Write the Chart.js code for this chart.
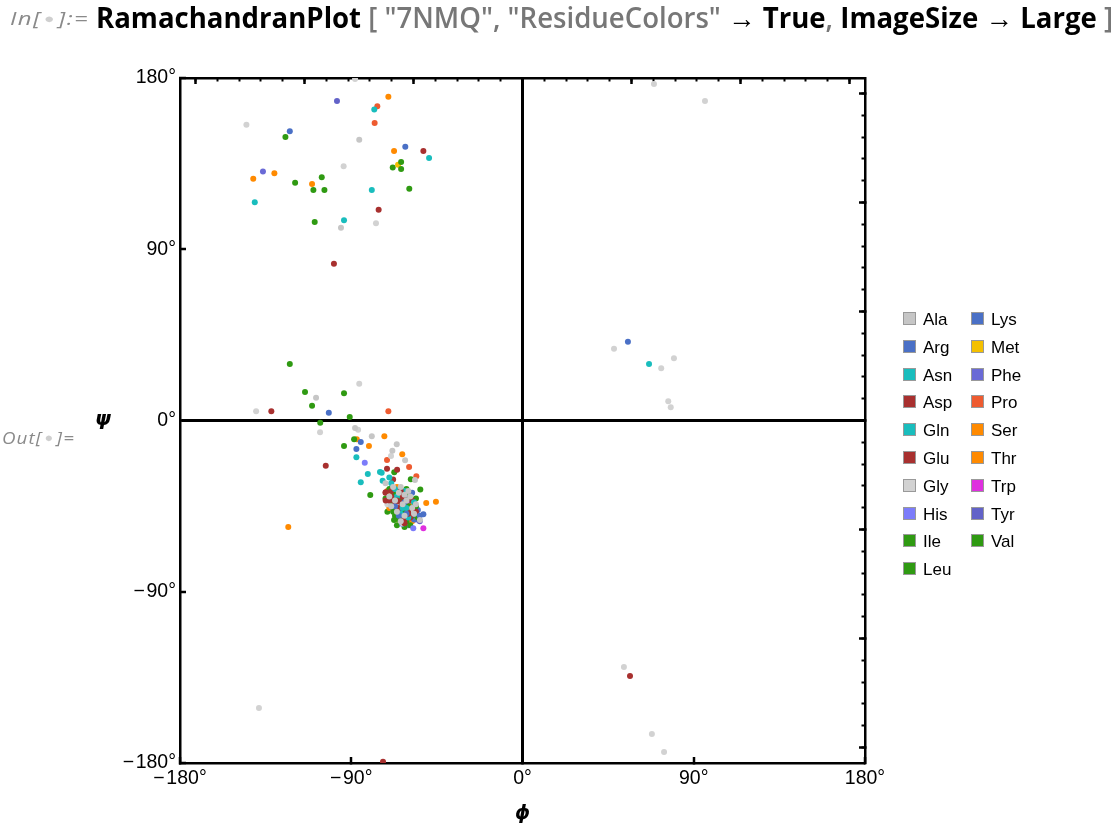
<!DOCTYPE html>
<html>
<head>
<meta charset="utf-8">
<script src="https://cdn.jsdelivr.net/npm/chart.js@4.4.1/dist/chart.umd.min.js"></script>
<style>
html,body{margin:0;padding:0;background:#fff;width:1120px;height:826px;overflow:hidden;font-family:"Liberation Sans",Arial,sans-serif;}
#wrap{position:relative;width:1120px;height:826px;}
#c{position:absolute;left:0;top:0;}
#inlab{position:absolute;left:10px;top:6px;font-size:18px;font-style:italic;color:#8a8a8a;white-space:nowrap;font-family:"Open Sans",sans-serif;transform-origin:0 0;letter-spacing:1px;}
#inlab .dot,#outlab .dot{color:#cfcfcf;font-style:normal;font-size:13px;margin:0 2px;position:relative;top:-2px;}
#cmd{position:absolute;left:96px;top:-2px;font-size:28px;font-weight:bold;white-space:nowrap;transform-origin:0 0;font-family:"Open Sans",sans-serif;color:#000;}
#cmd .g{color:#777;font-weight:600;}
#outlab{position:absolute;left:2px;top:426px;font-size:17px;font-style:italic;color:#8a8a8a;white-space:nowrap;font-family:"Open Sans",sans-serif;transform-origin:0 0;letter-spacing:1px;}
#psi{position:absolute;left:95px;top:406px;font-size:20px;font-weight:bold;font-style:italic;font-family:"DejaVu Sans",sans-serif;}
#legend{position:absolute;left:903px;top:307px;}
.li{position:absolute;height:26px;line-height:26px;font-size:17px;color:#000;white-space:nowrap;}
.sw{display:inline-block;width:11px;height:11px;border:1px solid #999;vertical-align:middle;margin-right:7px;position:relative;top:-2px;}
</style>
</head>
<body>
<div id="wrap">
  <canvas id="c" width="1120" height="826"></canvas>
  <div id="inlab">In[<span class="dot">●</span>]:=</div>
  <div id="cmd">RamachandranPlot <span class="g">[ "7NMQ", "ResidueColors"</span> → True<span class="g">,</span> ImageSize → Large <span class="g">]</span></div>
  <div id="outlab">Out[<span class="dot">●</span>]=</div>
  <div id="psi">ψ</div>
  <div id="legend"></div>
</div>
<script>
// ---- data: [phi, psi] pairs in degrees, per residue ----
const residues = ['Ala','Arg','Asn','Asp','Gln','Glu','Gly','His','Ile','Leu','Lys','Met','Phe','Pro','Ser','Thr','Trp','Tyr','Val'];

const ala = [[-85.8,147.6],[-95.4,101.3],[-108.5,12.0],[-88.0,-3.9],[-79.2,-8.3],[-66.1,-12.5],[-68.4,-15.9],[-61.7,-20.9],[-56.5,-31.3],[-53.9,-52.3],
  [-65,-38],[-61,-42],[-68,-35],[-58,-46],[-63,-44],[-70,-40],[-66,-48],[-60,-37],[-56,-44],[-72,-33],[-62,-50],[-67,-42],[-59,-40],[-64,-35],
  [-62,-39],[-57,-49],[-69,-45],[-64,-53]];
const arg = [[-61.6,143.9],[-101.8,4.1],[-87.3,-15.0],[-62,-43],[-58,-38],[-65,-50],[-54,-50],[-67,-45],[-61,-49]];
const asn = [[-77.9,163.5],[-79.2,121.1],[-93.8,105.2],[66.5,29.7],[-87.3,-19.3],[-85.0,-32.5],[-63,-46],[-70,-30]];
const asp = [[-52.1,141.6],[-99.1,82.4],[56.5,-134.3],[-132.0,4.8],[-71.2,-25.3],[-66,-42],[-60,-49],[-69,-40],[-64,-37],[-62,-54]];
const gln = [[-49.1,137.9],[-140.7,114.7],[-81.3,-28.1],[-74.9,-27.1],[-73.5,-31.6],[-74.0,-27.4],
  [-66,-40],[-62,-37],[-60,-51],[-69,-33],[-64,-49],[-57,-43],[-67,-36],[-61,-46]];
const glu = [[-75.6,110.8],[-73.3,-179.4],[-103.4,-23.8],[-65.9,-25.9],[-71.9,-42.1],[-71.9,-37.7],
  [-63,-40],[-67,-43],[-70,-42],[-60,-47],[-65,-46],[-72,-38],[-58,-42],[-68,-31],[-62,-52],[-56,-48],[-64,-43],[-59,-51],[-69,-37]];
const gly = [[-88.0,179.5],[-145.1,155.4],[-94.0,133.6],[-77.0,103.6],[69.1,176.8],[95.9,167.9],[48.1,37.7],[72.9,27.4],[79.6,32.7],[76.6,10.1],[77.9,6.9],
  [53.3,-129.6],[68.0,-164.7],[74.4,-174.2],[-138.5,-151.1],[-85.8,19.3],[-140.0,4.8],[-106.4,-6.2],[-86.4,-4.8],[-69.1,-18.7],
  [-65,-45],[-71,-44],[-63,-54],[-59,-47]];
const his = [[-82.9,-22.2],[-63.3,-54.3],[-57.4,-56.6],[-57,-49]];
const ile = [[-63.8,135.8],[-105.5,127.8],[-104.1,121.1],[-114.3,15.0],[-90.8,1.8],[-93.8,-13.4],
  [-63,-43],[-58,-48],[-66,-50],[-61,-38],[-67,-50],[-56,-41]];
const leu = [[-63.8,132.2],[-122.3,29.7],[-93.8,14.3],[-88.5,-9.9],[-67.4,-27.2],[-58.7,-30.9],[-53.7,-36.2],[-67.5,-52.3],
  [-64,-41],[-60,-45],[-67,-39],[-62,-48],[-58,-50],[-69,-44],[-65,-52],[-61,-53],[-57,-47],[-70,-36],[-63,-38],[-66,-45],[-59,-55],[-62,-56],[-55,-51],
  [-68,-48],[-61,-36],[-56,-45],[-66,-55],[-72,-41]];
const lys = [[-122.3,152.0],[55.4,41.4],[-85.0,-11.3],[-61,-39],[-64,-47],[-57,-52],[-66,-37],[-59,-49],[-68,-46],[-52.1,-49.3],[-63,-45],[-70,-44],[-55,-47]];
const met = [[-65.4,134.4],[-64,-44],[-60,-40],[-66,-52]];
const phe = [[-136.4,130.8],[-62,-41],[-58,-46],[-64,-52],[-60,-55]];
const pro = [[-76.3,165.1],[-77.7,156.3],[-70.5,4.8],[-71.2,-20.8],[-59.6,-24.4],[-55.8,-29.3]];
const ser = [[-70.5,170.2],[-130.4,129.9],[-110.6,124.3],[-80.7,-13.4],[-123.1,-56.0],[-72.6,-8.3],[-63.2,-17.8],[-45.5,-42.7],
  [-65,-43],[-61,-41],[-68,-38],[-59,-45],[-66,-35],[-58,-53]];
const thr = [[-67.5,141.6],[-141.5,127.1],[-87.1,-9.9],[-50.6,-43.4],[-64,-39],[-67,-47],[-62,-45],[-71,-37],[-70,-46],[-60,-38]];
const trp = [[-52.1,-56.6],[-61,-44]];
const tyr = [[-97.5,167.9],[-61,-47],[-56,-52],[-59,-42],[-54,-53]];
const val = [[-124.6,149.0],[-68.2,132.9],[-119.5,125.0],[-109.9,121.1],[-59.5,121.8],[-109.2,104.3],[-110.6,7.8],[-106.3,-1.2],[-80.0,-39.1],
  [-65,-47],[-60,-43],[-68,-41],[-63,-51],[-71,-48]];

const seriesData = [ala,arg,asn,asp,gln,glu,gly,his,ile,leu,lys,met,phe,pro,ser,thr,trp,tyr,val];

const tickValues = [-180,-90,0,90,180];
const tickLabels = ['\u2212\u200a180°','\u2212\u200a90°','0°','90°','180°'];

// ---- styles ----
const residueColors = {
  Ala:'#c6c6c6', Arg:'#4a70c6', Asn:'#19bdbd', Asp:'#a8302f', Gln:'#19bdbd', Glu:'#a8302f', Gly:'#d2d2d2',
  His:'#7c7cfa', Ile:'#2f9a12', Leu:'#2f9a12', Lys:'#4a70c6', Met:'#f4c000', Phe:'#6a6ad6', Pro:'#ee5b30',
  Ser:'#ff8a00', Thr:'#ff8a00', Trp:'#df2fdf', Tyr:'#6262c8', Val:'#2f9a12'
};

const tickFont = {family:'"Liberation Sans", Arial, sans-serif', size:19.5};
const labelFor = v => { const i = tickValues.indexOf(v); return i >= 0 ? tickLabels[i] : ''; };
const zeroColor = ctx => (ctx.tick && ctx.tick.value === 0) ? '#000' : 'rgba(0,0,0,0)';
const zeroWidth = ctx => (ctx.tick && ctx.tick.value === 0) ? 3 : 0;

const datasets = residues.map((r, i) => ({
  label: r,
  data: seriesData[i].map(([x, y]) => ({x, y})),
  pointRadius: 3,
  pointBackgroundColor: residueColors[r],
  pointBorderWidth: 0,
  showLine: false
}));

function radAxis(pos, step, len, width, border) {
  return {
    type: 'linear', position: pos, min: -Math.PI, max: Math.PI,
    afterFit: s => { if (pos === 'top') s.height = 0; else s.width = 0; },
    ticks: {display: false, stepSize: step, includeBounds: false},
    grid: {drawOnChartArea: false, drawTicks: true, tickLength: len, tickWidth: width, tickColor: '#000'},
    border: {display: border, color: '#000', width: 2.5}
  };
}

new Chart(document.getElementById('c'), {
  type: 'scatter',
  data: {datasets},
  options: {
    responsive: false,
    animation: false,
    events: [],
    layout: {padding: {top: 78, right: 255, bottom: 0, left: 0}},
    plugins: {legend: {display: false}, tooltip: {enabled: false}},
    scales: {
      x: {
        type: 'linear', position: 'bottom', min: -180, max: 180,
        afterFit: s => { s.height = 63; },
        ticks: {stepSize: 90, padding: 10, font: tickFont, color: '#000', maxRotation: 0, callback: labelFor},
        grid: {drawOnChartArea: true, color: zeroColor, lineWidth: zeroWidth, tickLength: -6, tickWidth: 2.5, tickColor: '#000'},
        border: {display: true, color: '#000', width: 2.5},
        title: {display: true, text: 'ϕ', color: '#000', padding: {top: 0, bottom: 1},
          font: {family: '"DejaVu Sans", sans-serif', size: 19, weight: 'bold', style: 'italic'}}
      },
      y: {
        type: 'linear', position: 'left', min: -180, max: 180,
        afterFit: s => { s.width = 180; },
        ticks: {stepSize: 90, padding: 10, font: tickFont, color: '#000', callback: labelFor},
        grid: {drawOnChartArea: true, color: zeroColor, lineWidth: zeroWidth, tickLength: -6, tickWidth: 2.5, tickColor: '#000'},
        border: {display: true, color: '#000', width: 2.5}
      },
      xTopMaj: radAxis('top', 1, -6, 2.5, true),
      xTopMin: radAxis('top', 0.2, -3.5, 2, false),
      yRightMaj: radAxis('right', 1, -6, 2.5, true),
      yRightMin: radAxis('right', 0.2, -3.5, 2, false)
    }
  }
});

// ---- legend (HTML) ----
const leg = document.getElementById('legend');
residues.forEach((r, i) => {
  const col = i < 10 ? 0 : 1;
  const row = i < 10 ? i : i - 10;
  const d = document.createElement('div');
  d.className = 'li';
  d.style.left = (col * 68) + 'px';
  d.style.top = (row * 27.8) + 'px';
  d.innerHTML = '<span class="sw" style="background:' + residueColors[r] + '"></span>' + r;
  leg.appendChild(d);
});

// fit text widths to reference
function fitWidth(id, target) {
  const el = document.getElementById(id);
  const w = el.getBoundingClientRect().width;
  el.style.transform = 'scaleX(' + (target / w) + ')';
}
fitWidth('cmd', 1017);
fitWidth('inlab', 79);
fitWidth('outlab', 73);
</script>
</body>
</html>
